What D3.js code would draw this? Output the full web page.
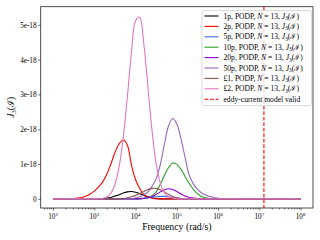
<!DOCTYPE html>
<html>
<head>
<meta charset="utf-8">
<script src="https://cdn.jsdelivr.net/npm/d3@7"></script>
<style>
  body { margin: 0; background: #fff; }
  svg { display: block; font-family: "Liberation Serif", "DejaVu Serif", serif; }
</style>
</head>
<body>
<svg id="chart" width="320" height="240"></svg>
<script>
// log10 of frequency (rad/s) for every sample
const freqExp = [2.0, 2.5, 2.6, 2.7, 2.8, 2.9, 3.0, 3.1, 3.2, 3.3, 3.4, 3.5, 3.6, 3.7, 3.8, 3.9,
                 4.0, 4.1, 4.2, 4.3, 4.4, 4.5, 4.6, 4.7, 4.8, 4.9, 5.0, 5.1, 5.2, 5.3, 5.4, 5.5,
                 5.6, 5.7, 5.8, 5.9, 6.0, 6.1, 8.0];

// J_3(I) values, in units of 1e-18
const j1p  = [0, 0, 0, 0, 0, 0, 0, 0, .01, .02, .04, .08, .12, .17, .20, .21, .19, .15, .10, .06, .03, .01,
              0, 0, 0, 0, 0, 0, 0, 0, 0, 0, 0, 0, 0, 0, 0, 0, 0];
const j2p  = [0, .01, .02, .04, .08, .14, .22, .34, .48, .70, 1.0, 1.33, 1.58, 1.69, 1.55, .97, .55, .30, .13, .05, .02,
              0, 0, 0, 0, 0, 0, 0, 0, 0, 0, 0, 0, 0, 0, 0, 0, 0, 0];
const j5p  = [0, 0, 0, 0, 0, 0, 0, 0, 0, 0, 0, 0, 0, 0, 0, 0, 0,
              .01, .02, .03, .05, .06, .07, .07, .06, .04, .02, .01,
              0, 0, 0, 0, 0, 0, 0, 0, 0, 0, 0];
const j10p = [0, 0, 0, 0, 0, 0, 0, 0, 0, 0, 0, 0, 0, 0, 0, 0, 0, 0,
              .01, .03, .09, .20, .42, .68, .90, 1.03, .99, .85, .64, .44, .27, .15, .07, .03, .01,
              0, 0, 0, 0];
const j20p = [0, 0, 0, 0, 0, 0, 0, 0, 0, 0, 0, 0, 0, 0, 0, 0, 0, 0,
              .01, .03, .07, .13, .20, .26, .29, .27, .21, .14, .08, .04, .02, .01,
              0, 0, 0, 0, 0, 0, 0];
const j50p = [0, 0, 0, 0, 0, 0, 0, 0, 0, 0, 0, 0, 0, 0, 0, 0,
              .03, .06, .12, .20, .36, .58, .99, 1.58, 2.10, 2.31, 2.15, 1.72, 1.19, .68, .43, .27, .17, .11, .07, .04, .02, .01,
              0];
const jL1  = [0, 0, 0, 0, 0, 0, 0, 0, 0, 0, 0, 0, 0,
              .01, .03, .06, .10, .15, .21, .27, .30, .30, .26, .20, .13, .07, .03, .01,
              0, 0, 0, 0, 0, 0, 0, 0, 0, 0, 0];
const jL2  = [0, 0, 0, 0, 0, 0, 0, 0,
              .01, .05, .16, .42, .92, 1.75, 2.92, 4.20, 5.12, 5.22, 4.45, 3.20, 1.95, 1.00, .45, .17, .06, .02,
              0, 0, 0, 0, 0, 0, 0, 0, 0, 0, 0, 0, 0];

const seriesNames  = ["1p", "2p", "5p", "10p", "20p", "50p", "£1", "£2"];
const seriesValues = [j1p, j2p, j5p, j10p, j20p, j50p, jL1, jL2];
const seriesColors = ["#000000", "#ff0000", "#4169e1", "#2ca02c", "#9400d3", "#9467bd", "#8c564b", "#e377c2"];

const validFreq = 1.29e7;   // eddy-current model limit
const xTickExp = [2, 3, 4, 5, 6, 7, 8];
const yTickVals = [0, 1, 2, 3, 4, 5];
const yTickLabels = ["0", "1e-18", "2e-18", "3e-18", "4e-18", "5e-18"];

const svg = d3.select("#chart");
const L = 40.7, R = 313, T = 6.7, B = 208;

const x = d3.scaleLog().domain([Math.pow(10, 1.7), Math.pow(10, 8.3)]).range([L, R]);
const y = d3.scaleLinear().domain([-0.263, 5.52]).range([B, T]);

// write text with italic / subscript / superscript pieces
function richText(textSel, parts) {
  parts.forEach(p => {
    const ts = textSel.append("tspan").text(p.t);
    if (p.it) ts.attr("font-style", "italic");
    if (p.sub) ts.attr("font-size", p.size).attr("dy", p.dy);
    if (p.back) ts.attr("dy", p.back);
  });
}

// ---- plot lines ----
const line = d3.line()
  .x((d, i) => x(Math.pow(10, freqExp[i])))
  .y(d => y(d))
  .curve(d3.curveCatmullRom.alpha(0.5));

const plot = svg.append("g");
seriesValues.forEach((vals, k) => {
  plot.append("path")
    .attr("d", line(vals))
    .attr("fill", "none")
    .attr("stroke", seriesColors[k])
    .attr("stroke-width", 1.1);
});

plot.append("line")
  .attr("x1", x(validFreq)).attr("x2", x(validFreq))
  .attr("y1", T).attr("y2", B)
  .attr("stroke", "#ff0000")
  .attr("stroke-width", 1.1)
  .attr("stroke-dasharray", "3.8,1.7");

// ---- axes ----
const minorTicks = x.ticks().filter(v => Math.abs(Math.log10(v) - Math.round(Math.log10(v))) > 1e-6);

svg.append("g").attr("transform", `translate(0,${B})`)
  .call(d3.axisBottom(x).tickValues(xTickExp.map(e => Math.pow(10, e))).tickSize(2.4).tickFormat(""));
svg.append("g").attr("transform", `translate(0,${B})`)
  .call(d3.axisBottom(x).tickValues(minorTicks).tickSize(1.4).tickFormat(""));

const yAxis = svg.append("g").attr("transform", `translate(${L},0)`)
  .call(d3.axisLeft(y).tickValues(yTickVals).tickSize(2.4).tickFormat((d, i) => yTickLabels[i]));

svg.selectAll(".tick line").attr("stroke", "#000").attr("stroke-width", 0.6);
svg.selectAll(".domain").remove();
yAxis.selectAll("text")
  .attr("font-family", "Liberation Serif, serif").attr("font-size", 7.2)
  .attr("fill", "#000").attr("x", -4.2).attr("dy", "0.34em");

// x tick labels as 10^n
xTickExp.forEach(e => {
  const t = svg.append("text")
    .attr("x", x(Math.pow(10, e)))
    .attr("y", 219)
    .attr("text-anchor", "middle")
    .attr("font-size", 7.2);
  richText(t, [{t: "10"}, {t: String(e), sub: true, size: 5, dy: -3}]);
});

// frame
svg.append("rect")
  .attr("x", L).attr("y", T).attr("width", R - L).attr("height", B - T)
  .attr("fill", "none").attr("stroke", "#222").attr("stroke-width", 0.8);

// axis labels
svg.append("text")
  .attr("x", (L + R) / 2).attr("y", 230)
  .attr("text-anchor", "middle").attr("font-size", 9.8)
  .text("Frequency (rad/s)");

const yl = svg.append("text")
  .attr("transform", `translate(14,${(T + B) / 2}) rotate(-90)`)
  .attr("text-anchor", "middle").attr("font-size", 9.6);
richText(yl, [{t: "J", it: true}, {t: "3", sub: true, size: 6.6, dy: 1.8}, {t: "(ℐ)", back: -1.8}]);

// ---- legend ----
const lg = svg.append("g");
const lgX = 202, lgY = 10.5, lgW = 109.5, rowH = 10.4;
lg.append("rect")
  .attr("x", lgX).attr("y", lgY).attr("width", lgW).attr("height", rowH * 9 + 1.5)
  .attr("rx", 1.5)
  .attr("fill", "#fff").attr("fill-opacity", 0.8)
  .attr("stroke", "#cccccc").attr("stroke-width", 0.7);

const handles = seriesNames.map((n, i) => ({name: n, color: seriesColors[i], dash: null}));
handles.push({name: null, color: "#ff0000", dash: "3.8,1.7"});

handles.forEach((h, i) => {
  const cy = lgY + 5.5 + i * rowH;
  lg.append("line")
    .attr("x1", lgX + 2.5).attr("x2", lgX + 16.5)
    .attr("y1", cy).attr("y2", cy)
    .attr("stroke", h.color).attr("stroke-width", 1.1)
    .attr("stroke-dasharray", h.dash);
  const t = lg.append("text")
    .attr("x", lgX + 21.5).attr("y", cy + 2.5)
    .attr("font-size", 7.6);
  if (h.name) {
    richText(t, [
      {t: h.name + ", PODP, "},
      {t: "N", it: true},
      {t: " = 13, "},
      {t: "J", it: true},
      {t: "3", sub: true, size: 5.3, dy: 1.4},
      {t: "(ℐ)", back: -1.4}
    ]);
  } else {
    t.text("eddy-current model valid");
  }
});
</script>
</body>
</html>
